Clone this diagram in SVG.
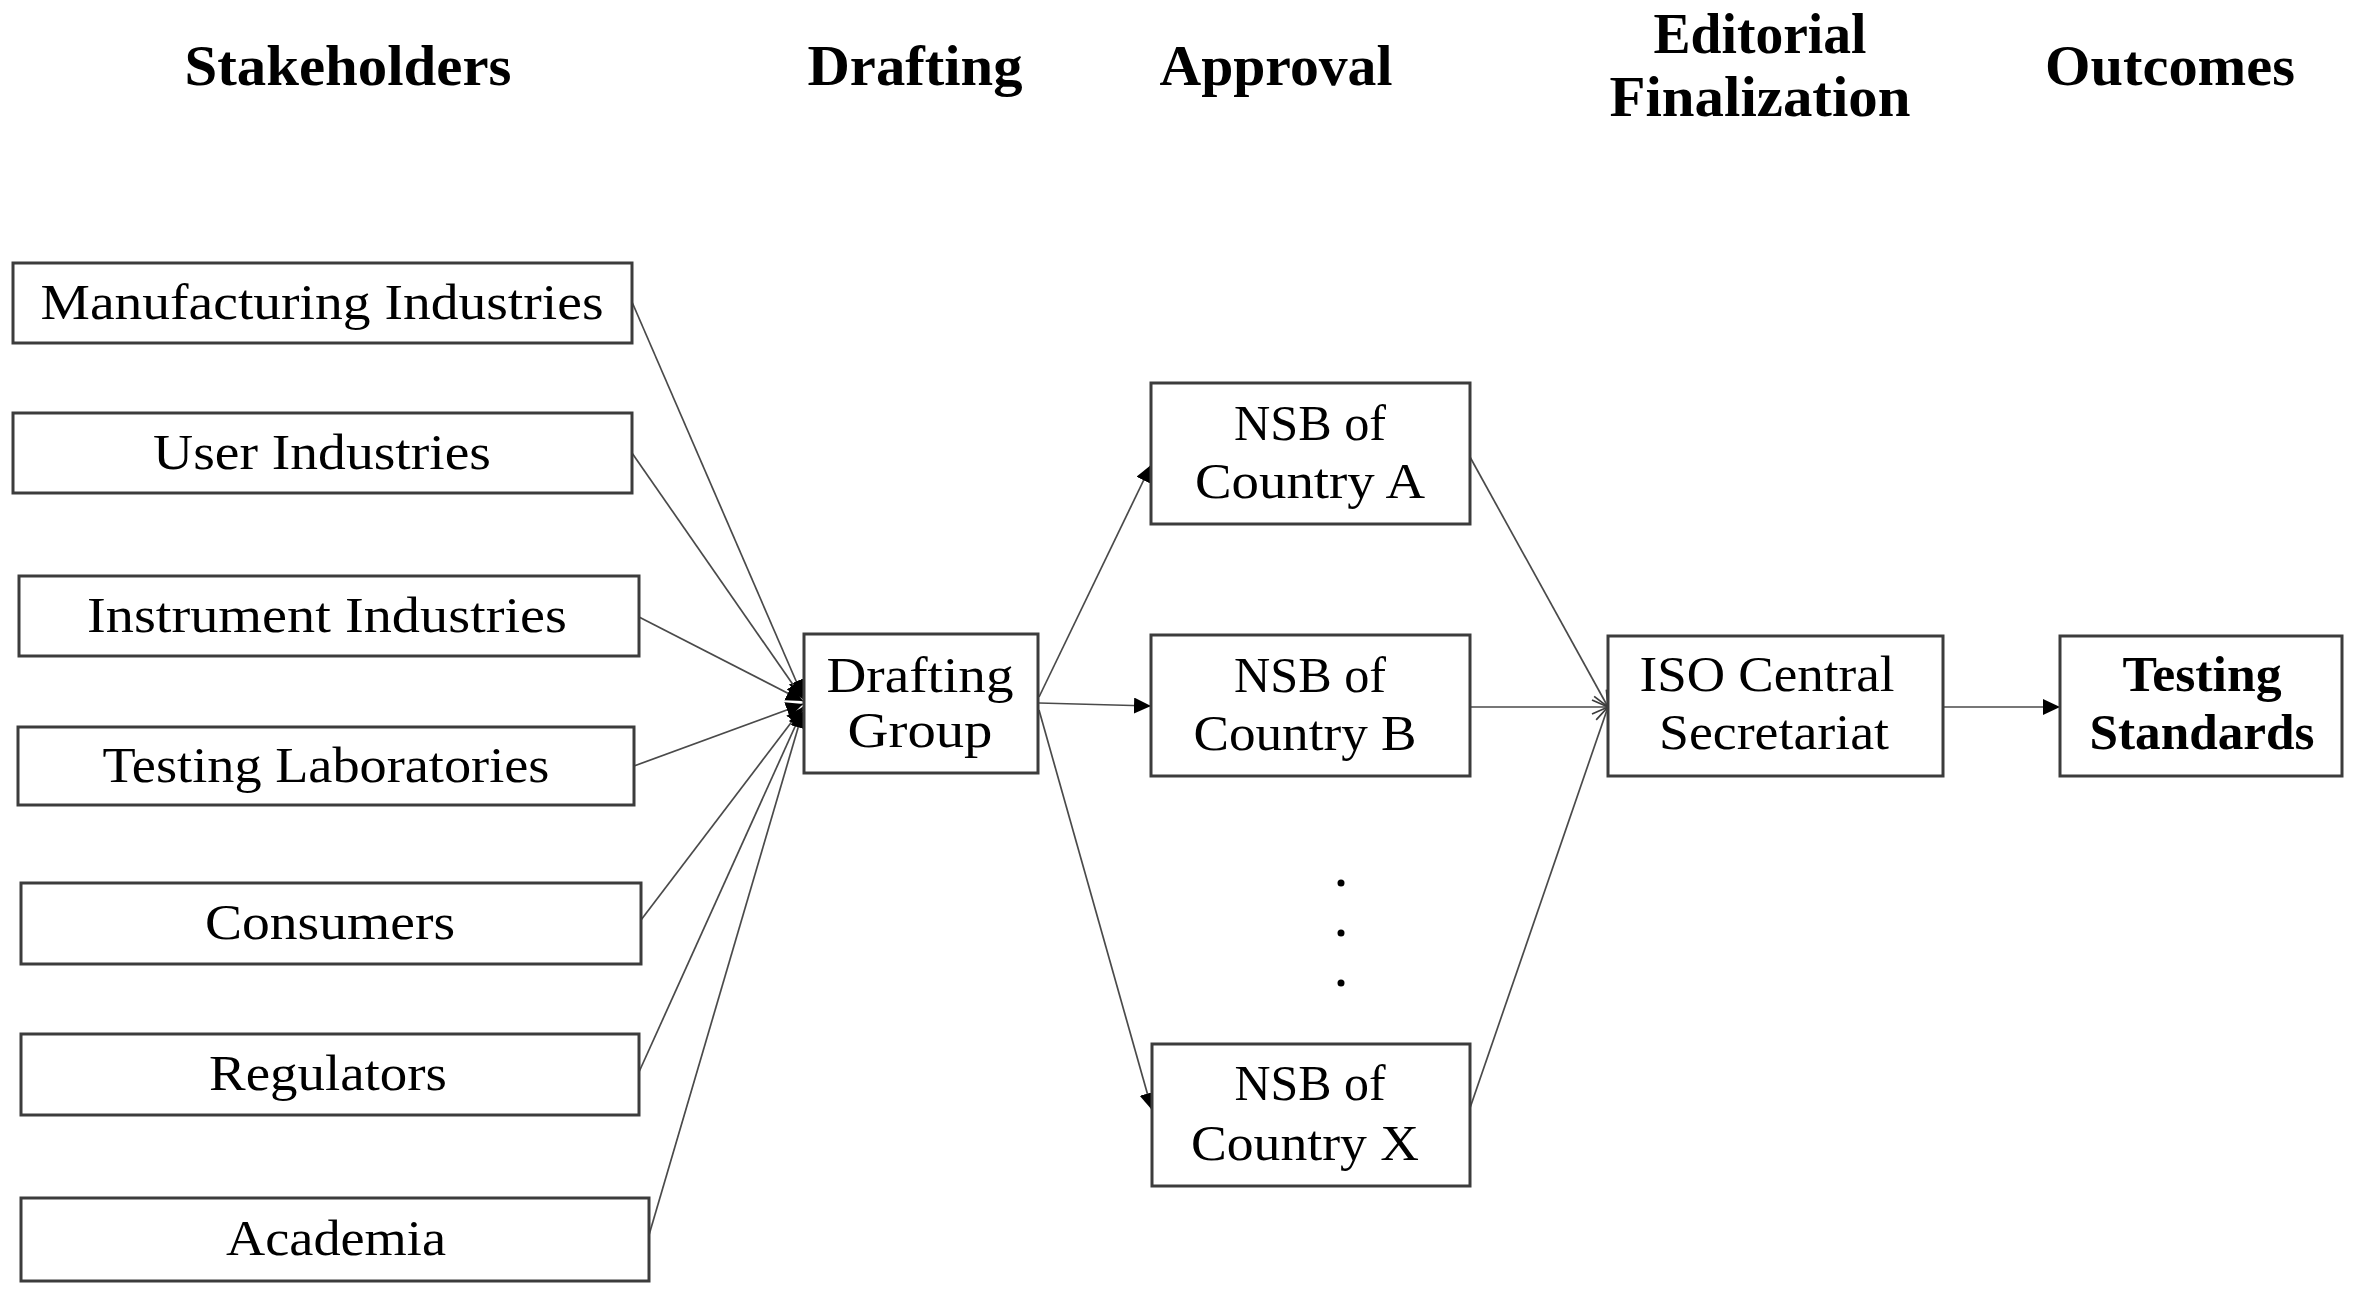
<svg xmlns="http://www.w3.org/2000/svg" width="2360" height="1299" viewBox="0 0 2360 1299">
<style>
.box{fill:#fff;stroke:#3c3c3c;stroke-width:3}
.t{font-family:"Liberation Serif","Times New Roman",serif;font-size:50px;fill:#000;text-anchor:middle}
.h{font-family:"Liberation Serif","Times New Roman",serif;font-size:57px;font-weight:bold;fill:#000;text-anchor:middle}
.b{font-weight:bold}
.c{stroke:#4a4a4a;stroke-width:1.7;fill:none}
.dot{fill:#000}
</style>
<defs>
<marker id="af" markerUnits="userSpaceOnUse" markerWidth="20" markerHeight="18" refX="17" refY="8" orient="auto">
<path d="M0,0 L17,8 L0,16 z" fill="#000"/>
</marker>
<marker id="ao" markerUnits="userSpaceOnUse" markerWidth="20" markerHeight="18" refX="17" refY="8" orient="auto">
<path d="M1,1 L17,8 L1,15" fill="none" stroke="#3c3c3c" stroke-width="1.7"/>
</marker>
</defs>
<rect width="2360" height="1299" fill="#fff"/>

<g id="headers">
<text class="h" x="348" y="85" textLength="327" lengthAdjust="spacingAndGlyphs">Stakeholders</text>
<text class="h" x="915" y="85" textLength="215" lengthAdjust="spacingAndGlyphs">Drafting</text>
<text class="h" x="1276" y="85" textLength="233" lengthAdjust="spacingAndGlyphs">Approval</text>
<text class="h" x="1760" y="53" textLength="213" lengthAdjust="spacingAndGlyphs">Editorial</text>
<text class="h" x="1760" y="116" textLength="301" lengthAdjust="spacingAndGlyphs">Finalization</text>
<text class="h" x="2170" y="85" textLength="250" lengthAdjust="spacingAndGlyphs">Outcomes</text>
</g>

<g id="connectors">
<line class="c" x1="632" y1="302" x2="803" y2="697" marker-end="url(#af)"/>
<line class="c" x1="632" y1="453" x2="803" y2="699" marker-end="url(#af)"/>
<line class="c" x1="639" y1="617" x2="803" y2="701" marker-end="url(#af)"/>
<line class="c" x1="634" y1="766" x2="803" y2="704" marker-end="url(#af)"/>
<line class="c" x1="641" y1="920" x2="803" y2="707" marker-end="url(#af)"/>
<line class="c" x1="639" y1="1072" x2="803" y2="709" marker-end="url(#af)"/>
<line class="c" x1="649" y1="1235" x2="803" y2="711" marker-end="url(#af)"/>
<line class="c" x1="1039" y1="697" x2="1151" y2="465" marker-end="url(#af)"/>
<line class="c" x1="1039" y1="703" x2="1151" y2="706" marker-end="url(#af)"/>
<line class="c" x1="1039" y1="710" x2="1152" y2="1110" marker-end="url(#af)"/>
<line class="c" x1="1470" y1="457" x2="1608" y2="707" marker-end="url(#ao)"/>
<line class="c" x1="1470" y1="707" x2="1608" y2="707" marker-end="url(#ao)"/>
<line class="c" x1="1470" y1="1108" x2="1608" y2="707" marker-end="url(#ao)"/>
<line class="c" x1="1943" y1="707" x2="2060" y2="707" marker-end="url(#af)"/>
</g>

<g id="n-manufacturing">
<rect class="box" x="13" y="263" width="619" height="80"/>
<text class="t" x="322" y="319" textLength="563" lengthAdjust="spacingAndGlyphs">Manufacturing Industries</text>
</g>
<g id="n-user">
<rect class="box" x="13" y="413" width="619" height="80"/>
<text class="t" x="322" y="469" textLength="338" lengthAdjust="spacingAndGlyphs">User Industries</text>
</g>
<g id="n-instrument">
<rect class="box" x="19" y="576" width="620" height="80"/>
<text class="t" x="327" y="632" textLength="480" lengthAdjust="spacingAndGlyphs">Instrument Industries</text>
</g>
<g id="n-testing-labs">
<rect class="box" x="18" y="727" width="616" height="78"/>
<text class="t" x="326" y="782" textLength="447" lengthAdjust="spacingAndGlyphs">Testing Laboratories</text>
</g>
<g id="n-consumers">
<rect class="box" x="21" y="883" width="620" height="81"/>
<text class="t" x="330" y="939" textLength="250" lengthAdjust="spacingAndGlyphs">Consumers</text>
</g>
<g id="n-regulators">
<rect class="box" x="21" y="1034" width="618" height="81"/>
<text class="t" x="328" y="1090" textLength="238" lengthAdjust="spacingAndGlyphs">Regulators</text>
</g>
<g id="n-academia">
<rect class="box" x="21" y="1198" width="628" height="83"/>
<text class="t" x="336" y="1255" textLength="220" lengthAdjust="spacingAndGlyphs">Academia</text>
</g>

<g id="n-drafting-group">
<rect class="box" x="804" y="634" width="234" height="139"/>
<text class="t" x="920" y="692" textLength="187" lengthAdjust="spacingAndGlyphs">Drafting</text>
<text class="t" x="920" y="747" textLength="145" lengthAdjust="spacingAndGlyphs">Group</text>
</g>

<g id="n-nsb-a">
<rect class="box" x="1151" y="383" width="319" height="141"/>
<text class="t" x="1310" y="440" textLength="152" lengthAdjust="spacingAndGlyphs">NSB of</text>
<text class="t" x="1310" y="498" textLength="230" lengthAdjust="spacingAndGlyphs">Country A</text>
</g>
<g id="n-nsb-b">
<rect class="box" x="1151" y="635" width="319" height="141"/>
<text class="t" x="1310" y="692" textLength="152" lengthAdjust="spacingAndGlyphs">NSB of</text>
<text class="t" x="1305" y="750" textLength="223" lengthAdjust="spacingAndGlyphs">Country B</text>
</g>
<g id="ellipsis">
<circle class="dot" cx="1341" cy="883" r="3.5"/>
<circle class="dot" cx="1341" cy="933" r="3.5"/>
<circle class="dot" cx="1341" cy="983" r="3.5"/>
</g>
<g id="n-nsb-x">
<rect class="box" x="1152" y="1044" width="318" height="142"/>
<text class="t" x="1310" y="1100" textLength="151" lengthAdjust="spacingAndGlyphs">NSB of</text>
<text class="t" x="1305" y="1160" textLength="228" lengthAdjust="spacingAndGlyphs">Country X</text>
</g>

<g id="n-iso">
<rect class="box" x="1608" y="636" width="335" height="140"/>
<text class="t" x="1767" y="691" textLength="255" lengthAdjust="spacingAndGlyphs">ISO Central</text>
<text class="t" x="1774" y="749" textLength="230" lengthAdjust="spacingAndGlyphs">Secretariat</text>
</g>

<g id="n-testing-standards">
<rect class="box" x="2060" y="636" width="282" height="140"/>
<text class="t b" x="2202" y="691" textLength="159" lengthAdjust="spacingAndGlyphs">Testing</text>
<text class="t b" x="2202" y="749" textLength="225" lengthAdjust="spacingAndGlyphs">Standards</text>
</g>
</svg>
